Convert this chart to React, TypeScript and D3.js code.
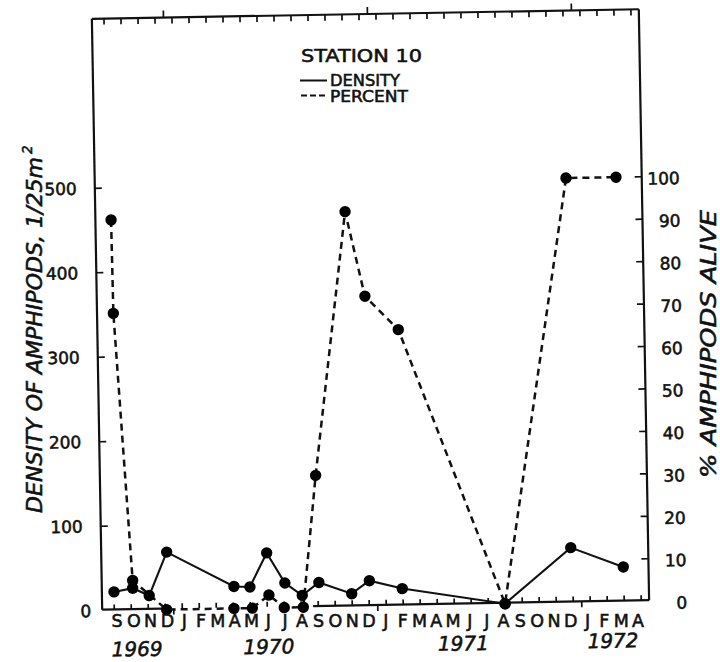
import React from 'react';
import * as d3 from 'd3';

// ---- data (month index 0 = Sep 1969) ----
const monthLabels = ['S','O','N','D','J','F','M','A','M','J','J','A','S','O','N','D','J','F','M','A','M','J','J','A','S','O','N','D','J','F','M','A'];
const yearLabels = ['1969', '1970', '1971', '1972'];
const yearAnchorMonth = [1.3, 9.05, 20.5, 29.3];
const yearBoundaryMonth = [3.5, 15.5, 27.5];

const densityMonth = [0, 1.1, 2.07, 3.14, 7.06, 8.0, 9.02, 10.06, 11.07, 12.06, 13.98, 15.03, 16.96, 22.99, 26.91, 29.98];
const densityValue = [22, 26, 17, 68, 26, 25, 65, 29, 14, 29, 15, 30, 20, 0, 65, 41];

const percentMonth = [0.21, 0.25, 1.11, 3.08, 7.04, 8.12, 9.11, 10.0, 11.12, 11.98, 13.98, 15.06, 16.99, 22.99, 27.01, 29.95];
const percentValue = [92, 70, 7, 0, 0, 0, 3, 0, 0, 31, 93, 73, 65, 0, 100, 100];

const densityTicks = [0, 100, 200, 300, 400, 500];
const percentTicks = [0, 10, 20, 30, 40, 50, 60, 70, 80, 90, 100];

const FONT = '"DejaVu Sans", sans-serif';
const INK = '#111';

export default function App() {
  const left = 97, right = 644, top = 14, bottom = 605;
  const x = d3.scaleLinear().domain([0, 31]).range([109.1, 636.1]);
  const yD = d3.scaleLinear().domain([0, 500]).range([606, 183.5]);
  const yP = d3.scaleLinear().domain([0, 100]).range([606, 181.5]);
  const labelX = d3.scaleLinear().domain([0, 31]).range([117, 638]);

  const dens = densityMonth.map((m, i) => [x(m), yD(densityValue[i])] as [number, number]);
  const perc = percentMonth.map((m, i) => [x(m), yP(percentValue[i])] as [number, number]);
  const line = d3.line<[number, number]>();

  const months = d3.range(0, 32);
  const textStroke = { stroke: INK, strokeWidth: 0.55 };

  return (
    <div style={{ position: 'absolute', left: 0, top: 0 }}>
      <svg width={720} height={662} style={{ display: 'block', background: '#fff' }}>
        <rect x={0} y={0} width={720} height={662} fill="#fff" />
        <g transform="rotate(-1 370 310)" fontFamily={FONT} fill={INK}>
          {/* frame */}
          <g stroke={INK} strokeWidth={2.2} fill="none">
            <line x1={left} y1={top} x2={left} y2={bottom} />
            <line x1={right} y1={top} x2={right} y2={bottom} />
            <line x1={left} y1={top} x2={right} y2={top} />
            <line x1={left} y1={bottom} x2={x(2.8)} y2={bottom} />
            <line x1={x(11.7)} y1={bottom} x2={right} y2={bottom} />
          </g>
          {/* ticks */}
          <g stroke={INK} strokeWidth={1.7}>
            {months.map((m) => (
              <line key={'bt' + m} x1={x(m)} y1={bottom} x2={x(m)} y2={bottom - 5} />
            ))}
            {months.map((m) => (
              <line key={'tt' + m} x1={x(m)} y1={top} x2={x(m)} y2={top + 6} />
            ))}
            {yearBoundaryMonth.map((m) => (
              <line key={'yb' + m} x1={x(m)} y1={bottom} x2={x(m)} y2={bottom + 6} />
            ))}
            {yearBoundaryMonth.map((m) => (
              <line key={'yt' + m} x1={x(m)} y1={top} x2={x(m)} y2={top - 7} />
            ))}
            {densityTicks.filter((t) => t > 0).map((t) => (
              <line key={'dl' + t} x1={left} y1={yD(t)} x2={left + 7} y2={yD(t)} />
            ))}
            {percentTicks.filter((t) => t > 0).map((t) => (
              <line key={'pr' + t} x1={right} y1={yP(t)} x2={right - 7} y2={yP(t)} />
            ))}
          </g>
          {/* tick labels */}
          {densityTicks.map((t) => (
            <text key={'dlab' + t} x={t === 0 ? 86 : 79} y={yD(t)} dy="0.36em" textAnchor="end" fontSize={17} {...textStroke}>
              {t}
            </text>
          ))}
          {percentTicks.map((t) => (
            <text key={'plab' + t} x={682} y={yP(t) + 2} dy="0.36em" textAnchor="end" fontSize={17} {...textStroke}>
              {t}
            </text>
          ))}
          {yearLabels.map((yl, i) => (
            <text key={yl} x={x(yearAnchorMonth[i])} y={652} textAnchor="middle" fontSize={20} fontStyle="italic" {...textStroke}>
              {yl}
            </text>
          ))}
          {/* series */}
          <path d={line(perc) || ''} fill="none" stroke={INK} strokeWidth={2.5} strokeDasharray="7 5" />
          <path d={line(dens) || ''} fill="none" stroke={INK} strokeWidth={2.1} />
          {perc.map((p, i) => (
            <circle key={'pc' + i} cx={p[0]} cy={p[1]} r={5.7} fill="#000" />
          ))}
          {dens.map((p, i) => (
            <circle key={'dc' + i} cx={p[0]} cy={p[1]} r={5.7} fill="#000" />
          ))}
        </g>
        {/* unrotated texts */}
        <g fontFamily={FONT} fill={INK}>
          {monthLabels.map((ml, i) => (
            <text key={'ml' + i} x={labelX(i)} y={627} textAnchor="middle" fontSize={17.5} {...textStroke}>
              {ml}
            </text>
          ))}
          <text x={301} y={62} fontSize={17.5} textLength={121} lengthAdjust="spacingAndGlyphs" {...textStroke}>
            STATION 10
          </text>
          <line x1={300} y1={80.5} x2={327} y2={80.5} stroke={INK} strokeWidth={2} />
          <line x1={301} y1={95.5} x2={327} y2={95.5} stroke={INK} strokeWidth={2} strokeDasharray="6 3" />
          <text x={330} y={86} fontSize={15} textLength={70} lengthAdjust="spacingAndGlyphs" {...textStroke}>
            DENSITY
          </text>
          <text x={330} y={102} fontSize={15} textLength={78} lengthAdjust="spacingAndGlyphs" {...textStroke}>
            PERCENT
          </text>
          <g transform="translate(42,335) rotate(-90)">
            <text x={0} y={0} textAnchor="middle" fontSize={20.5} fontStyle="italic" textLength={356} lengthAdjust="spacingAndGlyphs" {...textStroke}>
              DENSITY OF AMPHIPODS, 1/25m
            </text>
            <text x={181} y={-10} fontSize={13.5} fontStyle="italic" {...textStroke}>2</text>
          </g>
          <g transform="translate(716,344) rotate(-90)">
            <text x={0} y={0} textAnchor="middle" fontSize={22} fontStyle="italic" textLength={268} lengthAdjust="spacingAndGlyphs" {...textStroke}>
              % AMPHIPODS ALIVE
            </text>
          </g>
        </g>
      </svg>
    </div>
  );
}
